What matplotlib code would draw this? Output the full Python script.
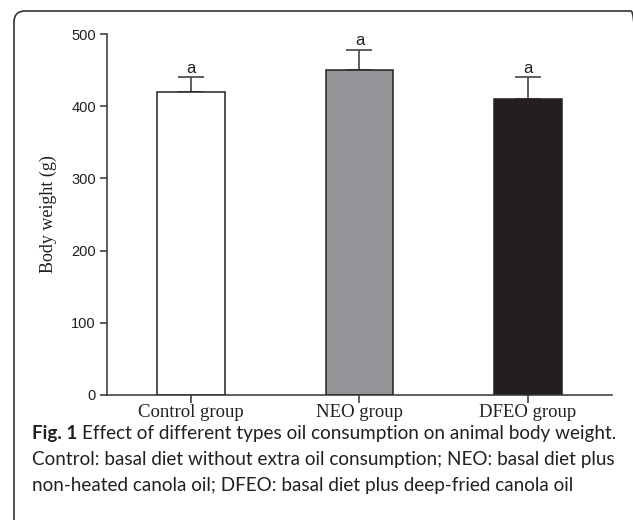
import matplotlib
matplotlib.use('Agg')
import matplotlib.pyplot as plt
from matplotlib.patches import FancyBboxPatch
from matplotlib.transforms import IdentityTransform

# group means and upper SD
groups = ['Control group', 'NEO group', 'DFEO group']
weights = [420, 450, 410]
sd = [20, 28, 30]
letters = ['a', 'a', 'a']
bar_colors = ['white', '#939598', '#231f20']

yticks = [0, 100, 200, 300, 400, 500]

fig = plt.figure(figsize=(6.33, 5.2), dpi=100)
ax = fig.add_axes([107 / 633, 125 / 520, 505 / 633, 361 / 520])

x = range(len(groups))
ax.bar(x, weights, width=0.4, color=bar_colors, edgecolor='#231f20', linewidth=1.1, zorder=2)
ax.errorbar(x, weights, yerr=[[0] * len(sd), sd], fmt='none', ecolor='#444444',
            elinewidth=1.2, capsize=9.5, capthick=1.2, zorder=1)
for xi, w, s, lt in zip(x, weights, sd, letters):
    ax.text(xi, w + s + 2, lt, ha='center', va='bottom', fontsize=12,
            family='Liberation Sans', color='#231f20')

ax.set_xlim(-0.5, 2.5)
ax.set_ylim(0, 500)
ax.set_yticks(yticks)
ax.set_xticks(list(x))
ax.set_xticklabels(groups, family='Liberation Serif', fontsize=13.5, color='#231f20')
for lbl in ax.get_yticklabels():
    lbl.set_family('Liberation Sans')
    lbl.set_fontsize(10.5)
    lbl.set_color('#231f20')
ax.tick_params(axis='y', length=5, width=1.1, color='#333333', pad=3)
ax.tick_params(axis='x', length=6, width=1.1, color='#333333', pad=0.5)
ax.set_ylabel('Body weight (g)', family='Liberation Serif', fontsize=13,
              color='#231f20', labelpad=10)

for side in ['top', 'right']:
    ax.spines[side].set_visible(False)
for side in ['left', 'bottom']:
    ax.spines[side].set_linewidth(1.1)
    ax.spines[side].set_color('#333333')

# caption
cap_kw = dict(family='Lato', fontsize=13.6, color='#231f20', ha='left', va='center')
fig.text(32 / 633, 1 - 434 / 520, 'Fig. 1', fontweight='bold', **cap_kw)
fig.text(82 / 633, 1 - 434 / 520, 'Effect of different types oil consumption on animal body weight.', **cap_kw)
fig.text(32 / 633, 1 - 459 / 520, 'Control: basal diet without extra oil consumption; NEO: basal diet plus', **cap_kw)
fig.text(32 / 633, 1 - 485 / 520, 'non-heated canola oil; DFEO: basal diet plus deep-fried canola oil', **cap_kw)

# rounded panel border, open at right and bottom
frame = FancyBboxPatch((14, -30), 628, 539, boxstyle='round,pad=0,rounding_size=11',
                       transform=IdentityTransform(), facecolor='none',
                       edgecolor='#333333', linewidth=1.2)
fig.add_artist(frame)

fig.savefig('out.png', dpi=100)
